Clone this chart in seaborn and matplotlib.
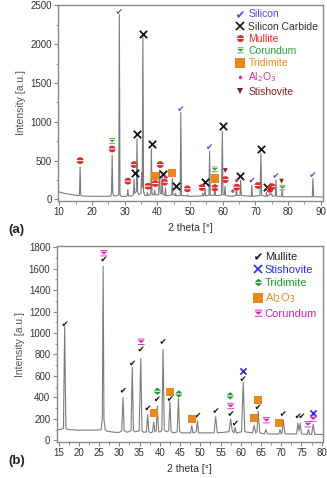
import numpy as np
import matplotlib
matplotlib.use("Agg")
import matplotlib.pyplot as plt
import seaborn as sns
from matplotlib.path import Path
from matplotlib.lines import Line2D
from matplotlib.ticker import AutoMinorLocator

# ---------------------------------------------------------
# DATA
# ---------------------------------------------------------

# panel (a): diffractogram trace
a_theta = [9.7, 11, 12, 13, 14, 15, 16.0, 16.2, 16.4, 16.6, 17, 18, 20, 22, 24,
           25.8, 26.0, 26.2, 26.4, 26.7, 27.5, 28.2, 28.4, 28.6, 29, 30.5, 30.8,
           31.0, 31.2, 32, 32.7, 32.9, 33.1, 33.6, 33.8, 34.0, 34.4, 35.0, 35.2,
           35.4, 35.6, 35.8, 36.2, 36.8, 37.0, 37.2, 37.8, 38.0, 38.2, 38.4,
           39.0, 39.2, 39.4, 40.4, 40.7, 40.9, 41.3, 41.5, 41.7, 42.3, 42.5,
           42.7, 43.5, 44.4, 44.6, 44.8, 45.4, 45.6, 45.8, 47.0, 47.2, 47.4,
           49.1, 49.3, 49.5, 53.7, 53.9, 54.1, 54.4, 54.6, 54.8, 55.8, 56.0,
           56.2, 57.4, 57.6, 57.8, 59.6, 59.9, 60.1, 60.5, 60.7, 60.9, 62.8,
           63.0, 63.2, 64.0, 64.2, 64.4, 65.3, 65.5, 65.7, 68.7, 68.9, 69.1,
           71.4, 71.7, 71.9, 73.2, 73.4, 73.6, 74.4, 74.6, 74.8, 75.0, 75.2,
           76.1, 76.3, 76.5, 78.0, 78.2, 78.4, 87.4, 87.6, 87.8, 90.7]
a_counts = [100, 85, 75, 68, 62, 55, 50, 60, 420, 55, 45, 42, 40, 40, 40,
            45, 80, 570, 80, 50, 45, 60, 2380, 60, 40, 40, 50,
            130, 45, 45, 60, 260, 80, 100, 780, 100, 60, 80, 350,
            150, 2100, 100, 50, 50, 90, 50, 60, 80, 650, 60,
            60, 120, 60, 60, 380, 80, 70, 280, 70, 50, 150,
            50, 50, 60, 270, 60, 50, 80, 45, 50, 1120, 50,
            45, 60, 40, 45, 80, 45, 60, 140, 45, 55, 620,
            55, 50, 200, 50, 55, 880, 60, 60, 170, 50, 40,
            50, 40, 50, 130, 50, 55, 250, 50, 40, 180, 40,
            50, 590, 50, 40, 90, 40, 60, 80, 60, 70, 40,
            50, 250, 40, 40, 120, 35, 35, 270, 35, 30]

# panel (a): phase markers
a_si_x = [28.4, 47.2, 56.0, 69.0, 76.3, 87.6]
a_si_y = [2420, 1170, 680, 250, 310, 320]
a_sic_x = [33.2, 33.9, 35.7, 38.3, 41.6, 45.7, 54.5, 60.0, 65.4, 71.7, 73.4]
a_sic_y = [340, 845, 2130, 718, 330, 170, 222, 945, 308, 650, 165]
a_mul_x = [16.4, 26.2, 31.0, 32.9, 37.2, 39.4, 40.9, 42.2, 49.2, 53.7, 57.6,
           60.8, 64.3, 70.8, 74.4, 75.1]
a_mul_y = [500, 650, 235, 449, 171, 205, 449, 222, 137, 154, 150,
           256, 158, 180, 130, 165]
a_cor_x = [26.2, 57.6, 78.3]
a_cor_y = [750, 385, 150]
a_tri_x = [39.3, 44.5, 57.6]
a_tri_y = [300, 342, 270]
a_al_x = [42.4, 63.1, 64.3]
a_al_y = [291, 107, 243]
a_sti_x = [60.8, 78.0]
a_sti_y = [372, 235]

# panel (b): diffractogram trace
b_theta = [14.5, 15, 16.2, 16.5, 16.8, 17.5, 20, 22, 24, 25.5, 25.8, 26.0,
           26.2, 26.5, 27, 29, 30, 30.6, 30.9, 31.2, 32, 32.9, 33.2, 33.5, 34,
           34.9, 35.3, 35.6, 36, 36.7, 37.0, 37.3, 37.8, 38.2, 38.5, 38.8, 39.1,
           39.4, 39.7, 40.2, 40.5, 40.8, 41.1, 41.6, 42.2, 42.5, 42.8, 43.5,
           44.3, 44.6, 44.9, 45.5, 47.6, 47.9, 48.2, 49.0, 49.3, 49.6, 53.4,
           53.8, 54.2, 57.1, 57.5, 57.9, 58.3, 58.6, 58.9, 60.2, 60.6, 61.0,
           62.9, 63.3, 63.7, 64.0, 64.3, 64.7, 65.8, 66.2, 66.6, 69.4, 69.7,
           70.0, 70.2, 70.5, 70.9, 73.8, 74.1, 74.4, 74.7, 75.0, 76.4, 76.7,
           77.0, 77.5, 77.9, 78.3, 80.25]
b_counts = [100, 100, 110, 1060, 110, 100, 95, 95, 95, 100, 200, 1620,
            200, 100, 85, 75, 75, 90, 400, 90, 75, 90, 680, 90, 80,
            90, 760, 90, 75, 80, 240, 80, 70, 80, 170, 80, 90,
            320, 80, 80, 100, 850, 100, 80, 90, 360, 80, 70,
            80, 390, 80, 70, 70, 140, 70, 80, 180, 70, 70,
            220, 70, 80, 200, 90, 70, 120, 70, 80, 540, 80,
            70, 140, 70, 80, 270, 70, 60, 100, 60, 60, 100,
            60, 70, 190, 60, 60, 160, 90, 160, 60, 55, 100,
            55, 55, 150, 55, 55]

# panel (b): phase markers
b_mul_x = [16.6, 26.2, 31.0, 33.3, 35.4, 37.1, 39.4, 40.8, 42.6, 49.4, 53.9,
           57.6, 58.7, 60.6, 64.3, 70.5, 74.2, 75.1]
b_mul_y = [1086, 1689, 467, 721, 851, 303, 387, 921, 390, 235, 278,
           250, 161, 575, 313, 250, 229, 229]
b_sti_x = [60.6, 77.9]
b_sti_y = [650, 257]
b_tri_x = [39.4, 44.7, 57.4]
b_tri_y = [458, 433, 415]
b_al_x = [38.5, 42.6, 48.0, 63.2, 64.3, 69.5]
b_al_y = [257, 452, 201, 210, 377, 161]
b_cor_x = [26.2, 35.4, 57.5, 66.3, 76.6, 77.9]
b_cor_y = [1741, 916, 318, 186, 148, 201]

# ---------------------------------------------------------
# MARKER SHAPES
# ---------------------------------------------------------

def half_discs():
    t = np.linspace(0, np.pi, 12)
    top = [(np.cos(a), 0.15 + 0.85 * np.sin(a)) for a in t]
    bot = [(np.cos(a), -0.15 - 0.85 * np.sin(a)) for a in t]
    verts = top + [top[0]] + bot + [bot[0]]
    codes = ([Path.MOVETO] + [Path.LINETO] * 11 + [Path.CLOSEPOLY]) * 2
    return Path(verts, codes)


DBL_TRI = Path([(-1, 0.15), (1, 0.15), (0, 1), (-1, 0.15),
                (-1, -0.15), (1, -0.15), (0, -1), (-1, -0.15)],
               [Path.MOVETO, Path.LINETO, Path.LINETO, Path.CLOSEPOLY] * 2)

BAR_TRI = Path([(-1, 1), (1, 1), (1, 0.75), (-1, 0.75), (-1, 1),
                (-1, 0.5), (1, 0.5), (0, -0.35), (-1, 0.5),
                (-1, -0.6), (1, -0.6), (1, -0.85), (-1, -0.85), (-1, -0.6)],
               [Path.MOVETO, Path.LINETO, Path.LINETO, Path.LINETO, Path.CLOSEPOLY,
                Path.MOVETO, Path.LINETO, Path.LINETO, Path.CLOSEPOLY,
                Path.MOVETO, Path.LINETO, Path.LINETO, Path.LINETO, Path.CLOSEPOLY])

HALF_DISC = half_discs()
CHECK = "$\u2714$"

# ---------------------------------------------------------
# STYLE
# ---------------------------------------------------------

sns.set_style("ticks")
plt.rcParams["font.family"] = ["Liberation Sans", "DejaVu Sans"]
plt.rcParams["axes.edgecolor"] = "#8a8a8a"
plt.rcParams["xtick.color"] = "#8a8a8a"
plt.rcParams["ytick.color"] = "#8a8a8a"
plt.rcParams["xtick.labelcolor"] = "#333333"
plt.rcParams["ytick.labelcolor"] = "#333333"

TRACE = "#7c7c7c"

fig = plt.figure(figsize=(3.27, 4.78), dpi=100)
ax_a = fig.add_axes([0.178, 0.5795, 0.810, 0.411])
ax_b = fig.add_axes([0.173, 0.0753, 0.814, 0.410])


def phase(ax, xs, ys, marker, color, size, lw=0):
    sns.scatterplot(x=xs, y=ys, marker=marker, color=color, s=size,
                    linewidth=lw, edgecolor=color if lw else "none",
                    ax=ax, legend=False, zorder=3)


def style_axes(ax, xlim, ylim, xticks, yticks):
    ax.set_xlim(*xlim)
    ax.set_ylim(*ylim)
    ax.set_xticks(xticks)
    ax.set_yticks(yticks)
    ax.xaxis.set_minor_locator(AutoMinorLocator(2))
    ax.yaxis.set_minor_locator(AutoMinorLocator(2))
    ax.tick_params(which="major", length=3, width=0.8, labelsize=7, pad=1.5)
    ax.tick_params(which="minor", length=1.8, width=0.6)
    for s in ax.spines.values():
        s.set_linewidth(1.0)
        s.set_visible(True)
    ax.set_ylabel("Intensity [a.u.]", fontsize=7.5, color="#555555", labelpad=3)
    ax.set_xlabel("2 theta [\u00b0]", fontsize=7.5, color="#333333", labelpad=4)


# ---------------------------------------------------------
# PANEL (a)
# ---------------------------------------------------------
sns.lineplot(x=a_theta, y=a_counts, color=TRACE, lw=0.8, ax=ax_a, sort=False,
             estimator=None)
phase(ax_a, a_si_x, a_si_y, CHECK, "#4b4bdc", 14)
phase(ax_a, a_sic_x, a_sic_y, "x", "#111111", 28, lw=1.3)
phase(ax_a, a_mul_x, a_mul_y, HALF_DISC, "#e52a2a", 24)
phase(ax_a, a_cor_x, a_cor_y, BAR_TRI, "#2f9b3a", 18)
phase(ax_a, a_tri_x, a_tri_y, "s", "#e8891a", 38)
phase(ax_a, a_al_x, a_al_y, "o", "#d9309a", 6)
phase(ax_a, a_sti_x, a_sti_y, "v", "#8b1c24", 12)

style_axes(ax_a, (9.7, 90.7), (-20, 2510), range(10, 91, 10), range(0, 2501, 500))

leg_a = [("Silicon", CHECK, "#4b4bdc", "#4b4bdc", 5),
         ("Silicon Carbide", "x", "#111111", "#333333", 5.5),
         ("Mullite", HALF_DISC, "#e52a2a", "#e52a2a", 5),
         ("Corundum", BAR_TRI, "#2f9b3a", "#2f9b3a", 4.5),
         ("Tridimite", "s", "#e8891a", "#e8891a", 6.5),
         ("Al$_2$O$_3$", "o", "#d9309a", "#d9309a", 2.5),
         ("Stishovite", "v", "#8b1c24", "#8b1c24", 4)]
handles = [Line2D([], [], marker=m, color=c, linestyle="none", markersize=ms,
                  markeredgewidth=1.2 if m == "x" else 0)
           for _, m, c, _, ms in leg_a]
leg = ax_a.legend(handles, [l[0] for l in leg_a], loc="upper right",
                  frameon=False, fontsize=7.5, handlelength=0.8,
                  handletextpad=0.45, labelspacing=0.22, borderaxespad=0.15,
                  borderpad=0.3)
for t, item in zip(leg.get_texts(), leg_a):
    t.set_color(item[3])

# ---------------------------------------------------------
# PANEL (b)
# ---------------------------------------------------------
sns.lineplot(x=b_theta, y=b_counts, color=TRACE, lw=0.8, ax=ax_b, sort=False,
             estimator=None)
phase(ax_b, b_mul_x, b_mul_y, CHECK, "#111111", 14)
phase(ax_b, b_sti_x, b_sti_y, "x", "#2a2ae0", 20, lw=1.2)
phase(ax_b, b_tri_x, b_tri_y, DBL_TRI, "#1f9a2e", 28)
phase(ax_b, b_al_x, b_al_y, "s", "#e8891a", 36)
phase(ax_b, b_cor_x, b_cor_y, BAR_TRI, "#e020b8", 24)

style_axes(ax_b, (14.5, 80.25), (-15, 1810), range(15, 81, 5), range(0, 1801, 200))

leg_b = [("Mullite", CHECK, "#111111", "#222222", 5),
         ("Stishovite", "x", "#2a2ae0", "#2a2ae0", 5.5),
         ("Tridimite", DBL_TRI, "#1f9a2e", "#1f9a2e", 5.5),
         ("Al$_2$O$_3$", "s", "#e8891a", "#e8891a", 7.5),
         ("Corundum", BAR_TRI, "#e020b8", "#d6209e", 5.5)]
handles = [Line2D([], [], marker=m, color=c, linestyle="none", markersize=ms,
                  markeredgewidth=1.2 if m == "x" else 0)
           for _, m, c, _, ms in leg_b]
leg = ax_b.legend(handles, [l[0] for l in leg_b], loc="upper right",
                  frameon=False, fontsize=8, handlelength=0.8,
                  handletextpad=0.25, labelspacing=0.3, borderaxespad=0.2,
                  borderpad=0.3)
for t, item in zip(leg.get_texts(), leg_b):
    t.set_color(item[3])

# panel letters
fig.text(0.025, 0.513, "(a)", fontsize=9.5, fontweight="bold", color="#222222")
fig.text(0.025, 0.030, "(b)", fontsize=9.5, fontweight="bold", color="#222222")

fig.savefig("out.png", dpi=100)
